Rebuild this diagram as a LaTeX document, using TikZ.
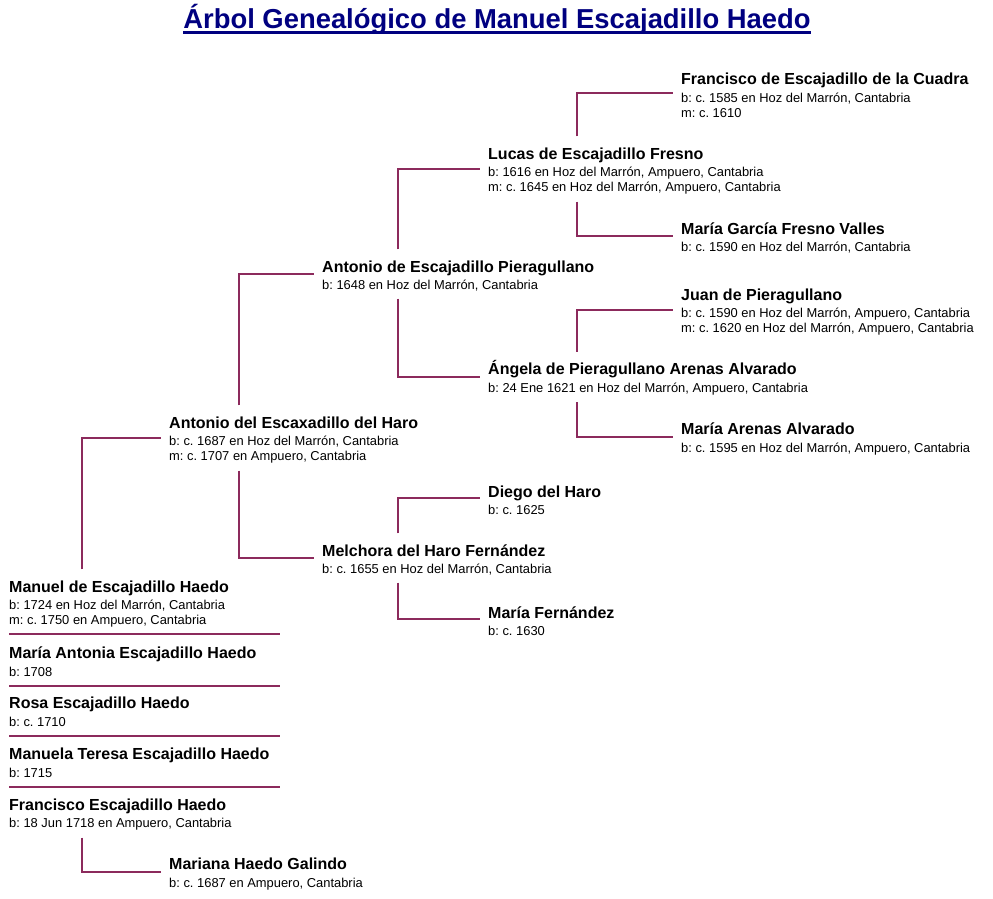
\documentclass[tikz,border=0pt]{standalone}
\usepackage{fontspec}
\setmainfont{Liberation Sans}
\usepackage{tikz}
\usetikzlibrary{positioning}
\definecolor{linkred}{RGB}{140,42,92}
\definecolor{titleblue}{RGB}{0,0,128}
\newcommand{\nmfont}{\fontsize{16}{18}\selectfont\bfseries\rule{0pt}{15.7pt}}
\newcommand{\dtfont}{\fontsize{12.9}{15}\selectfont}
\frenchspacing
\tikzset{
    person/.style = {anchor=west, align=left, inner xsep=8pt, inner ysep=7pt, font=\dtfont},
    link/.style = {draw=linkred, line width=2pt},
    sepline/.style = {draw=linkred, line width=2pt},
    titletext/.style = {anchor=base, inner sep=0pt, text=titleblue, font=\fontsize{27.4}{30}\selectfont\bfseries},
    titleline/.style = {draw=titleblue, line width=2.5pt}
}
\begin{document}
\begin{tikzpicture}[x=1pt, y=-1pt]
  \useasboundingbox (0,0) rectangle (993,898);

  \node[titletext] (title) at (497,28) {Árbol Genealógico de Manuel Escajadillo Haedo};
  \draw[titleline] ([yshift=-4.5pt]title.base west) -- ([yshift=-4.5pt]title.base east);

  % great-grandparents
  \node[person] (francisco) at (673,93) {{\nmfont Francisco de Escajadillo de la Cuadra}\\[2.5pt] b: c. 1585 en Hoz del Marrón, Cantabria\\ m: c. 1610};
  \node[person] (mgarcia) at (673,236) {{\nmfont María García Fresno Valles}\\[2.5pt] b: c. 1590 en Hoz del Marrón, Cantabria};
  \node[person] (juan) at (673,310) {{\nmfont Juan de Pieragullano}\\[2.5pt] b: c. 1590 en Hoz del Marrón, Ampuero, Cantabria\\ m: c. 1620 en Hoz del Marrón, Ampuero, Cantabria};
  \node[person] (marenas) at (673,437) {{\nmfont María Arenas Alvarado}\\[2.5pt] b: c. 1595 en Hoz del Marrón, Ampuero, Cantabria};

  % grandparents
  \node[person] (lucas) at (480,169) {{\nmfont Lucas de Escajadillo Fresno}\\[2.5pt] b: 1616 en Hoz del Marrón, Ampuero, Cantabria\\ m: c. 1645 en Hoz del Marrón, Ampuero, Cantabria};
  \node[person] (angela) at (480,377) {{\nmfont Ángela de Pieragullano Arenas Alvarado}\\[2.5pt] b: 24 Ene 1621 en Hoz del Marrón, Ampuero, Cantabria};
  \node[person] (diego) at (480,498) {{\nmfont Diego del Haro}\\[2.5pt] b: c. 1625};
  \node[person] (mfernandez) at (480,619) {{\nmfont María Fernández}\\[2.5pt] b: c. 1630};

  % parents
  \node[person] (antp) at (314,274) {{\nmfont Antonio de Escajadillo Pieragullano}\\[2.5pt] b: 1648 en Hoz del Marrón, Cantabria};
  \node[person] (melchora) at (314,558) {{\nmfont Melchora del Haro Fernández}\\[2.5pt] b: c. 1655 en Hoz del Marrón, Cantabria};

  \node[person] (ante) at (161,438) {{\nmfont Antonio del Escaxadillo del Haro}\\[2.5pt] b: c. 1687 en Hoz del Marrón, Cantabria\\ m: c. 1707 en Ampuero, Cantabria};
  \node[person] (mariana) at (161,872) {{\nmfont Mariana Haedo Galindo}\\[2.5pt] b: c. 1687 en Ampuero, Cantabria};

  % siblings
  \node[person] (manuel) at (1,602) {{\nmfont Manuel de Escajadillo Haedo}\\[2.5pt] b: 1724 en Hoz del Marrón, Cantabria\\ m: c. 1750 en Ampuero, Cantabria};
  \node[person] (mantonia) at (1,659.5) {{\nmfont María Antonia Escajadillo Haedo}\\[2.5pt] b: 1708};
  \node[person] (rosa) at (1,709.5) {{\nmfont Rosa Escajadillo Haedo}\\[2.5pt] b: c. 1710};
  \node[person] (manuela) at (1,760.5) {{\nmfont Manuela Teresa Escajadillo Haedo}\\[2.5pt] b: 1715};
  \node[person] (franh) at (1,812.5) {{\nmfont Francisco Escajadillo Haedo}\\[2.5pt] b: 18 Jun 1718 en Ampuero, Cantabria};

  \draw[sepline] (9,634) -- (280,634);
  \draw[sepline] (9,686) -- (280,686);
  \draw[sepline] (9,736) -- (280,736);
  \draw[sepline] (9,787) -- (280,787);

  \draw[link] ([xshift=97pt]lucas.north west) |- (francisco.west);
  \draw[link] ([xshift=97pt]lucas.south west) |- (mgarcia.west);
  \draw[link] ([xshift=97pt]angela.north west) |- (juan.west);
  \draw[link] ([xshift=97pt]angela.south west) |- (marenas.west);
  \draw[link] ([xshift=84pt]antp.north west) |- (lucas.west);
  \draw[link] ([xshift=84pt]antp.south west) |- (angela.west);
  \draw[link] ([xshift=84pt]melchora.north west) |- (diego.west);
  \draw[link] ([xshift=84pt]melchora.south west) |- (mfernandez.west);
  \draw[link] ([xshift=78pt]ante.north west) |- (antp.west);
  \draw[link] ([xshift=78pt]ante.south west) |- (melchora.west);
  \draw[link] ([xshift=81pt]manuel.north west) |- (ante.west);
  \draw[link] ([xshift=81pt]franh.south west) |- (mariana.west);
\end{tikzpicture}
\end{document}
